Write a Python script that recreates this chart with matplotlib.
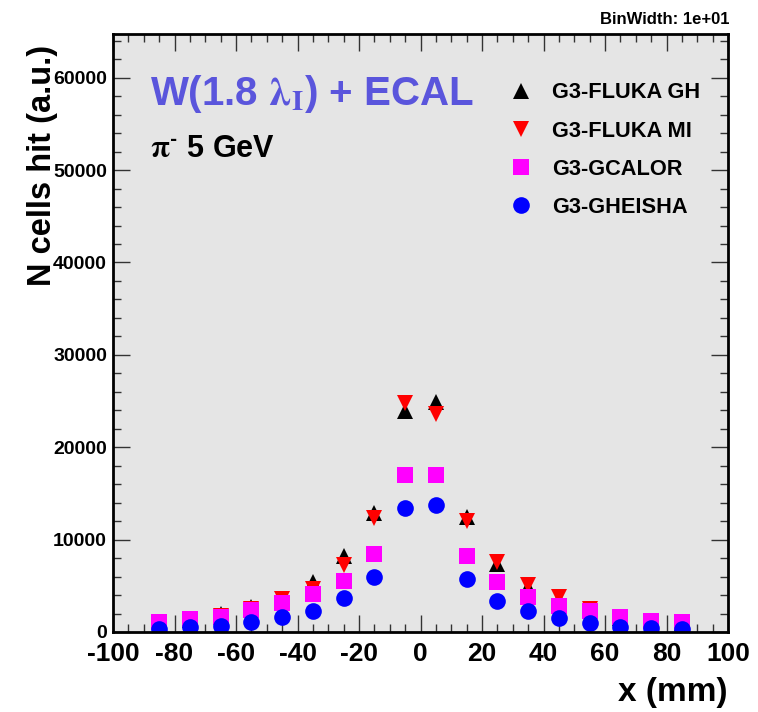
import matplotlib
matplotlib.use("Agg")
import matplotlib.pyplot as plt
from matplotlib.ticker import MultipleLocator

plt.rcParams['font.family'] = ['Liberation Sans', 'DejaVu Sans']
plt.rcParams['font.weight'] = 'bold'
plt.rcParams['mathtext.fontset'] = 'stix'
plt.rcParams['axes.unicode_minus'] = False

# ---- data ----
x_centers = [-85, -75, -65, -55, -45, -35, -25, -15, -5, 5, 15, 25, 35, 45, 55, 65, 75, 85]
fluka_gh = [1100, 1300, 1900, 2700, 3600, 5400, 8200, 12900, 23900, 24900, 12500, 7400, 4900, 3600, 2300, 1500, 1150, 1000]
fluka_mi = [1050, 1250, 1700, 2500, 3600, 4700, 7200, 12300, 24800, 23600, 12050, 7600, 5100, 3800, 2500, 1600, 1200, 1000]
gcalor = [1110, 1370, 1660, 2380, 3170, 4080, 5520, 8440, 16950, 16950, 8260, 5370, 3750, 2850, 2310, 1590, 1230, 1050]
gheisha = [290, 510, 690, 1050, 1660, 2310, 3640, 5990, 13450, 13740, 5770, 3320, 2270, 1550, 1010, 580, 400, 290]
labels = ['G3-FLUKA GH', 'G3-FLUKA MI', 'G3-GCALOR', 'G3-GHEISHA']
x_ticks = [-100, -80, -60, -40, -20, 0, 20, 40, 60, 80, 100]
y_ticks = [0, 10000, 20000, 30000, 40000, 50000, 60000]

W, H = 758, 712
fig = plt.figure(figsize=(W / 100, H / 100), dpi=100)
fig.patch.set_facecolor('white')
ax = fig.add_axes([113 / W, 1 - 632 / H, (728 - 113) / W, (632 - 34.3) / H])
ax.set_facecolor('#e5e5e5')

ms = 12
ax.plot(x_centers, fluka_gh, ls='none', marker='^', ms=ms, color='black', mew=0, label=labels[0])
ax.plot(x_centers, fluka_mi, ls='none', marker='v', ms=ms, color='#ff0000', mew=0, label=labels[1])
ax.plot(x_centers, gcalor, ls='none', marker='s', ms=ms, color='#ff00ff', mew=0, label=labels[2])
ax.plot(x_centers, gheisha, ls='none', marker='o', ms=ms, color='#0000ff', mew=0, label=labels[3])

ax.set_xlim(-100, 100)
ax.set_ylim(0, 64700)
ax.set_xticks(x_ticks)
ax.set_yticks(y_ticks)
ax.xaxis.set_minor_locator(MultipleLocator(5))
ax.yaxis.set_minor_locator(MultipleLocator(2000))

for s in ax.spines.values():
    s.set_linewidth(2)
    s.set_color('black')

ax.tick_params(which='both', direction='in', top=True, right=True, color='#333333', width=1)
ax.tick_params(which='major', length=12.5)
ax.tick_params(which='minor', length=6)
ax.tick_params(axis='x', which='major', labelsize=19, pad=7)
ax.tick_params(axis='y', which='major', labelsize=14, pad=4.3)
for lab in ax.get_xticklabels() + ax.get_yticklabels():
    lab.set_fontweight('bold')

leg = ax.legend(loc='upper left', bbox_to_anchor=(510 / W, 1 - 82.5 / H),
                bbox_transform=fig.transFigure, frameon=False,
                prop={'size': 15.7, 'weight': 'bold'}, handlelength=1.0,
                handletextpad=0.92, labelspacing=0.78, borderpad=0, borderaxespad=0,
                numpoints=1)

fig.text(150 / W, 1 - 105 / H, r'W(1.8 $\mathrm{\lambda}_{\mathrm{I}}$) + ECAL', color='#5a55dc',
         fontsize=29, fontweight='bold', ha='left', va='baseline')
fig.text(150 / W, 1 - 157 / H, r'$\mathrm{\pi}^{\text{-}}$ 5 GeV', color='black',
         fontsize=22, fontweight='bold', ha='left', va='baseline')
fig.text(729 / W, 1 - 24 / H, 'BinWidth: 1e+01', fontsize=12, fontweight='bold',
         ha='right', va='baseline')
fig.text(728 / W, 1 - 701 / H, 'x (mm)', fontsize=24, fontweight='bold',
         ha='right', va='baseline')
fig.text(43 / W, 1 - 45 / H, 'N cells hit (a.u.)', fontsize=23.5, fontweight='bold',
         rotation=90, ha='center', va='top')

fig.savefig('out.png', dpi=100)
